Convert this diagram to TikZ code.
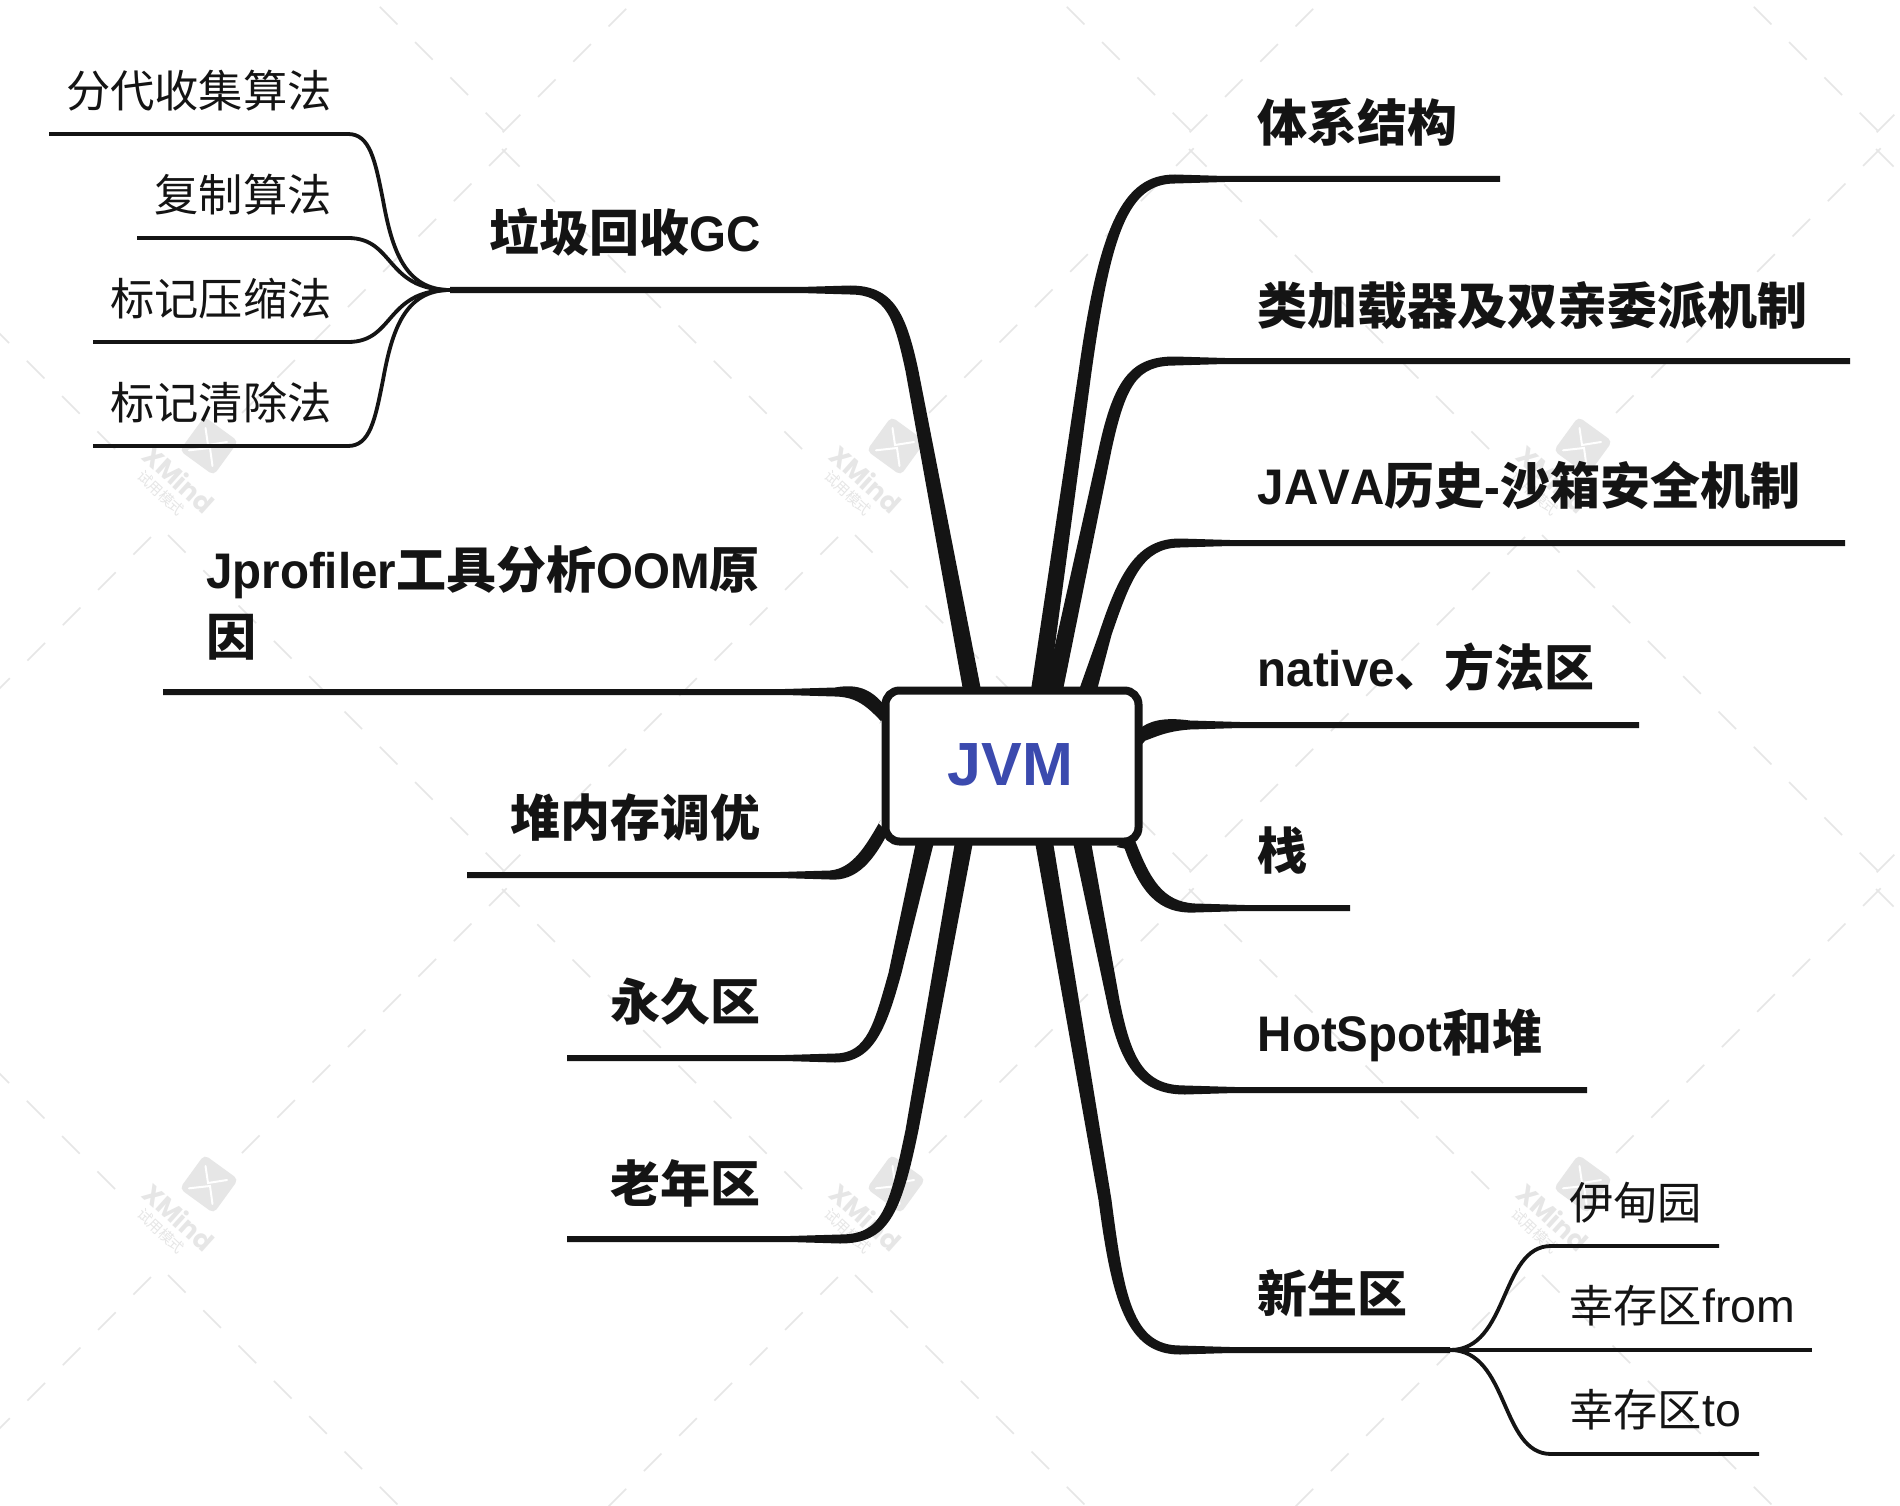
\documentclass[tikz,border=0pt]{standalone}
\usepackage{fontspec}
\usetikzlibrary{calc,backgrounds}
\setmainfont{Noto Sans CJK SC}
\newfontfamily\latinf[FakeStretch=0.95]{Liberation Sans}
\newfontfamily\latinwide{Liberation Sans}
\newfontfamily\latinplain[Kerning=Off,FakeStretch=0.95]{Liberation Sans}
\newfontfamily\wmfont{Poppins}
\newcommand\lat[1]{{\latinf #1}}
\newcommand\latsub[1]{{\latinwide\fontsize{46.5}{50}\selectfont #1}}
\definecolor{ink}{HTML}{141414}
\definecolor{jvmblue}{HTML}{3B4AAE}
\definecolor{wmgray}{HTML}{E6E6E6}
\tikzset{
  x=1pt,y=-1pt,
  rootbox/.style={draw=ink,fill=white,line width=8pt,rounded corners=14pt,minimum width=253pt,minimum height=151pt,inner sep=0pt,
    font=\latinwide\bfseries\fontsize{61}{61}\selectfont,text=jvmblue},
  maintopic/.style={inner sep=0pt,text=ink,font=\bfseries\fontsize{50}{67}\selectfont},
  subtopic/.style={inner sep=0pt,text=ink,font=\fontsize{44.3}{50}\selectfont},
  subline/.style={draw=ink,line width=3.8pt},
  wmdash/.style={draw=wmgray,line width=1.5pt},
  wmname/.style={inner sep=0pt,text=wmgray,rotate=-42,font=\wmfont\bfseries\fontsize{26}{26}\selectfont},
  wmnote/.style={inner sep=0pt,text=wmgray,rotate=-43,font=\fontsize{14.5}{15}\selectfont},
}
% S (relative to root), P, c1, c2, B, end coordinate, normal, side
\newcommand\trunk[8]{%
  \fill[ink] ($(root)+#1+9*#7$) -- ($#2+6.5*#7$)
    .. controls ($#3+6*#7+(0,-#8*3)$) and ($#4+(0,-#8*4.5)+3*#7$) .. ($#5+(0,-#8*4.5)$)
    -- ($#5+(#8*50,-#8*3)$) -- ($(#6)+(0,-#8*3)$) -- ($(#6)+(0,#8*3)$) -- ($#5+(#8*50,#8*3)$)
    -- ($#5+(0,#8*4.5)$)
    .. controls ($#4+(0,#8*4.5)-3*#7$) and ($#3-6*#7+(0,#8*3)$) .. ($#2-6.5*#7$) -- ($(root)+#1-9*#7$) -- cycle;
}
\begin{document}
\begin{tikzpicture}
\useasboundingbox (0,0) rectangle (1900,1506);
\node[rootbox] (root) at (1012,766) {\raisebox{2.4pt}{JVM\kern3pt}};

% end points of the underlines
\coordinate (e1) at (1500,179);
\coordinate (e2) at (1850,361);
\coordinate (e3) at (1845,543);
\coordinate (e4) at (1639,725);
\coordinate (e5) at (1350,908);
\coordinate (e6) at (1587,1090);
\coordinate (e7) at (1450,1350);
\coordinate (e8) at (450,290);
\coordinate (e9) at (163,692);
\coordinate (e10) at (467,875);
\coordinate (e11) at (567,1058);
\coordinate (e12) at (567,1239);

% topics
\node[maintopic,anchor=base west] (t1) at (1257.5,142) {体系结构};
\node[maintopic,anchor=base west] (t2) at (1257.5,324) {类加载器及双亲委派机制};
\node[maintopic,anchor=base west] (t3) at (1257.5,504.5) {{\latinplain JAVA}历史{\latinplain -}沙箱安全机制};
\node[maintopic,anchor=base west] (t4) at (1257.5,686.5) {\lat{native}、方法区};
\node[maintopic,anchor=base west] (t5) at (1257.5,869) {栈};
\node[maintopic,anchor=base west] (t6) at (1257.5,1051) {\lat{HotSpot}和堆};
\node[maintopic,anchor=base west] (t7) at (1257.5,1312) {新生区};
\node[maintopic,anchor=base east] (t8) at (761,252) {垃圾回收\lat{GC}};
\node[maintopic,anchor=west,align=left] (t9) at (206,603) {\lat{Jprofiler}工具分析\lat{OOM}原\\因};
\node[maintopic,anchor=base east] (t10) at (761,836) {堆内存调优};
\node[maintopic,anchor=base east] (t11) at (761,1020) {永久区};
\node[maintopic,anchor=base east] (t12) at (761,1202) {老年区};

\node[subtopic,anchor=base east] (s1) at (332,108) {分代收集算法};
\node[subtopic,anchor=base east] (s2) at (332,212) {复制算法};
\node[subtopic,anchor=base east] (s3) at (332,315) {标记压缩法};
\node[subtopic,anchor=base east] (s4) at (332,419) {标记清除法};
\node[subtopic,anchor=base west] (s5) at (1569,1219) {伊甸园};
\node[subtopic,anchor=base west] (s6) at (1569,1322) {幸存区\latsub{from}};
\node[subtopic,anchor=base west] (s7) at (1569,1426) {幸存区\latsub{to}};

\begin{scope}[on background layer]
  \fill[white] (0,0) rectangle (1900,1506);
  % watermark lattice
  \begin{scope}
  \clip (0,0) rectangle (1900,1506);
  \foreach \xc in {-527,160,847,1534,2221}{
    \foreach \yc in {-230,510,1250,1990}{
      \foreach \k in {0,...,7}{
        \draw[wmdash] ({\xc+82+35.3*\k},{\yc-15-82-35.3*\k}) -- ++(17.6,-17.6);}
      \foreach \k in {0,...,8}{
        \draw[wmdash] ({\xc-45-35.3*\k},{\yc-16-45-35.3*\k}) -- ++(-17.6,-17.6);}
      \foreach \k in {0,...,9}{
        \draw[wmdash] ({\xc+8+35.3*\k},{\yc+17+8+35.3*\k}) -- ++(17.6,17.6);
        \draw[wmdash] ({\xc-9-35.3*\k},{\yc+18+9+35.3*\k}) -- ++(-17.6,17.6);}
    }
  }
  \foreach \lx/\ly/\id in {209/446/a,896/446/b,1583/446/c,209/1184/d,896/1184/e,1583/1184/f}{
    \begin{scope}[shift={(\lx,\ly)}]
      \fill[wmgray,rounded corners=5pt,rotate=-36] (-21,-21) rectangle (21,21);
      \draw[white,line width=2pt,line cap=round] (-3.5,-18) -- (-1,-1) -- (18,-4);
      \draw[white,line width=2pt,line cap=round] (-20,4.3) -- (1,2) -- (3.5,20);
      \node[wmname] (wx\id) at (-30,33) {XMind};
      \node[wmnote] (wn\id) at (-48,47) {试用模式};
    \end{scope}
  }
  \end{scope}

  % main branches
  \trunk{(28,-76)}{(1085,372)}{(1105,230)}{(1125,179)}{(1175,179)}{e1}{(-1,0)}{1}
  \trunk{(42,-76)}{(1105,450)}{(1120,380)}{(1135,361)}{(1175,361)}{e2}{(-1,0)}{1}
  \trunk{(76,-76)}{(1105,635)}{(1125,575)}{(1140,543)}{(1180,543)}{e3}{(-1,0)}{1}
  \trunk{(124,-28)}{(1142,735)}{(1152,729)}{(1165,724)}{(1190,725)}{e4}{(-0.5,-0.87)}{1}
  \trunk{(112,76)}{(1130,845)}{(1145,885)}{(1160,908)}{(1195,908)}{e5}{(0.83,-0.55)}{1}
  \trunk{(70,76)}{(1113,1000)}{(1125,1060)}{(1140,1090)}{(1185,1090)}{e6}{(1,0)}{1}
  \trunk{(32,76)}{(1105,1200)}{(1118,1300)}{(1130,1350)}{(1180,1350)}{e7}{(1,0)}{1}
  \trunk{(-40,-76)}{(912,371)}{(900,315)}{(890,290)}{(850,290)}{e8}{(-1,0)}{-1}
  \trunk{(-127,-50)}{(885,716)}{(870,698)}{(858,690)}{(835,692)}{e9}{(-0.6,0.8)}{-1}
  \trunk{(-127,64)}{(885,825)}{(870,853)}{(855,875)}{(830,875)}{e10}{(0.7,0.7)}{-1}
  \trunk{(-87,76)}{(895,973)}{(880,1027)}{(870,1058)}{(835,1058)}{e11}{(1,0)}{-1}
  \trunk{(-48,76)}{(912,1130)}{(895,1212)}{(885,1239)}{(840,1239)}{e12}{(1,0)}{-1}

  % sub branches
  \draw[subline] (e8) .. controls (405,290) and (392,250) .. (383,200) .. controls (375,160) and (370,134) .. (348,134) -- (49,134);
  \draw[subline] (e8) .. controls (385,290) and (395,238) .. (348,238) -- (137,238);
  \draw[subline] (e8) .. controls (385,290) and (395,342) .. (348,342) -- (93,342);
  \draw[subline] (e8) .. controls (405,290) and (392,330) .. (383,380) .. controls (375,420) and (370,446) .. (348,446) -- (93,446);
  \draw[subline] (e7) .. controls (1509,1350) and (1500,1246) .. (1551,1246) -- (1719,1246);
  \draw[subline] (e7) -- (1812,1350);
  \draw[subline] (e7) .. controls (1509,1350) and (1500,1454) .. (1551,1454) -- (1759,1454);
\end{scope}
\end{tikzpicture}
\end{document}
